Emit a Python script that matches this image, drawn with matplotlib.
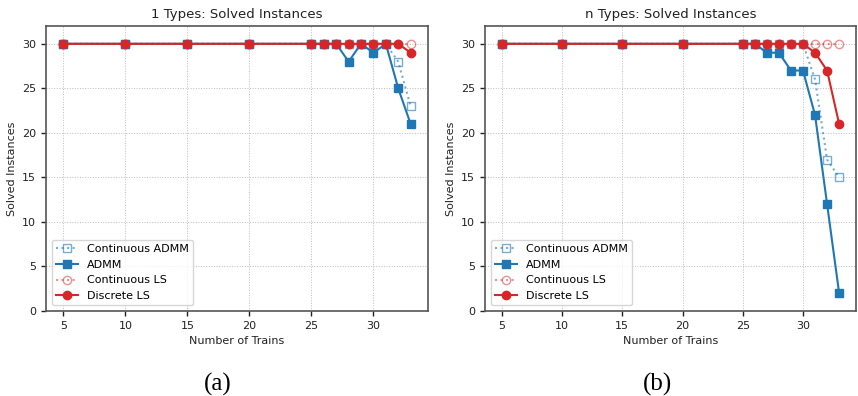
import matplotlib.pyplot as plt

# number of trains evaluated
trains = [5, 10, 15, 20, 25, 26, 27, 28, 29, 30, 31, 32, 33]

# solved instances (out of 30), single type
one_cont_admm = [30, 30, 30, 30, 30, 30, 30, 30, 30, 30, 30, 28, 23]
one_admm = [30, 30, 30, 30, 30, 30, 30, 28, 30, 29, 30, 25, 21]
one_cont_ls = [30, 30, 30, 30, 30, 30, 30, 30, 30, 30, 30, 30, 30]
one_disc_ls = [30, 30, 30, 30, 30, 30, 30, 30, 30, 30, 30, 30, 29]

# solved instances (out of 30), n types
n_cont_admm = [30, 30, 30, 30, 30, 30, 30, 30, 30, 30, 26, 17, 15]
n_admm = [30, 30, 30, 30, 30, 30, 29, 29, 27, 27, 22, 12, 2]
n_cont_ls = [30, 30, 30, 30, 30, 30, 30, 30, 30, 30, 30, 30, 30]
n_disc_ls = [30, 30, 30, 30, 30, 30, 30, 30, 30, 30, 29, 27, 21]

BLUE = '#1f77b4'
RED = '#d62728'


def draw_panel(ax, title, cont_admm, admm, cont_ls, disc_ls):
    ax.plot(trains, cont_admm, ls=':', marker='s', color=BLUE, alpha=0.6,
            mfc='none', ms=6, lw=1.5, label='Continuous ADMM')
    ax.plot(trains, admm, ls='-', marker='s', color=BLUE,
            ms=6, lw=1.5, label='ADMM')
    ax.plot(trains, cont_ls, ls=':', marker='o', color=RED, alpha=0.5,
            mfc='none', ms=6, lw=1.5, label='Continuous LS')
    ax.plot(trains, disc_ls, ls='-', marker='o', color=RED,
            ms=6, lw=1.5, label='Discrete LS')

    ax.set_title(title, fontsize=9.5, color='#222222', pad=6)
    ax.set_xlabel('Number of Trains', fontsize=8, color='#222222')
    ax.set_ylabel('Solved Instances', fontsize=8, color='#222222')
    ax.set_ylim(0, 32)
    ax.set_xticks([5, 10, 15, 20, 25, 30])
    ax.set_yticks([0, 5, 10, 15, 20, 25, 30])
    ax.tick_params(labelsize=8, colors='#222222', length=3.5, width=1)
    ax.grid(True, ls=':', lw=0.7, color='#bbbbbb')
    for sp in ax.spines.values():
        sp.set_color('#555555')
        sp.set_linewidth(1.2)
    ax.legend(loc='lower left', fontsize=8, framealpha=0.8,
              edgecolor='#cccccc')


fig = plt.figure(figsize=(8.58, 3.96), dpi=100)
ax1 = fig.add_axes([46 / 858, 85 / 396, 382 / 858, 285 / 396])
ax2 = fig.add_axes([485 / 858, 85 / 396, 371 / 858, 285 / 396])

draw_panel(ax1, '1 Types: Solved Instances',
           one_cont_admm, one_admm, one_cont_ls, one_disc_ls)
draw_panel(ax2, 'n Types: Solved Instances',
           n_cont_admm, n_admm, n_cont_ls, n_disc_ls)

fig.text(218 / 858, 1 - 384 / 396, '(a)', family='Liberation Serif',
         fontsize=18, ha='center', va='center')
fig.text(658 / 858, 1 - 384 / 396, '(b)', family='Liberation Serif',
         fontsize=18, ha='center', va='center')

fig.savefig('out.png', dpi=100)
